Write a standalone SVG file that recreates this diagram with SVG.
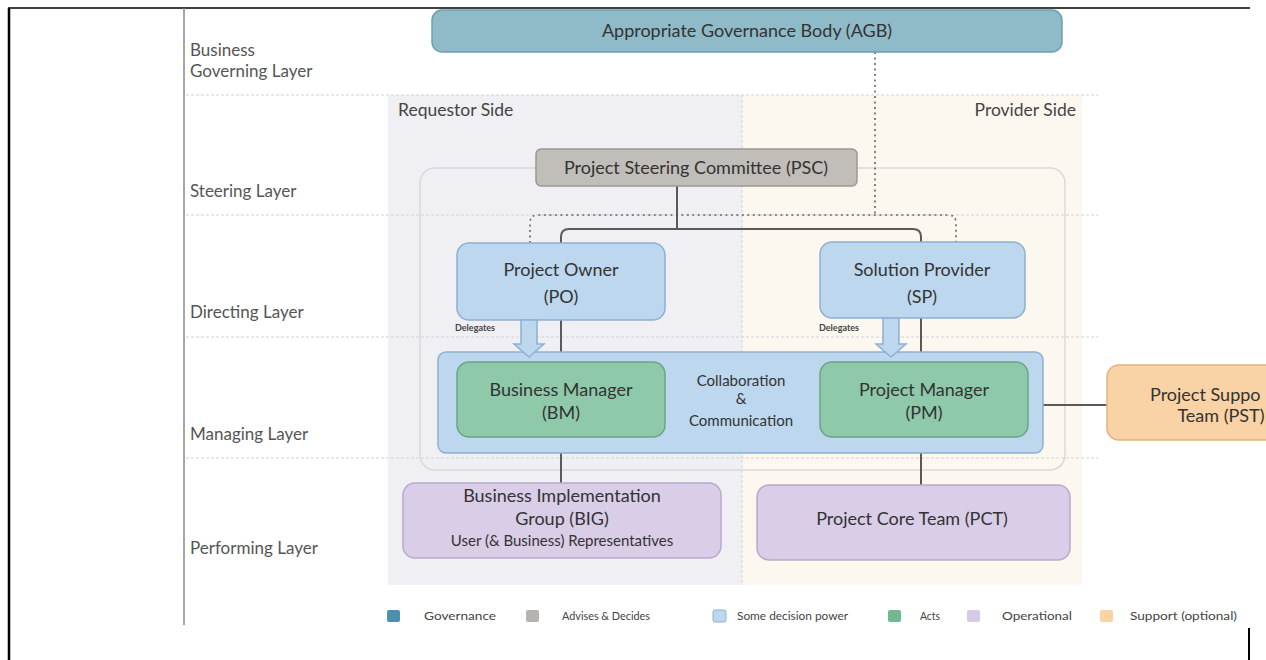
<svg xmlns="http://www.w3.org/2000/svg" width="1266" height="660" viewBox="0 0 1266 660">
<style>
text{font-family:Lato,"Open Sans","Liberation Sans",sans-serif;fill:#333}
.layer{font-size:17px;fill:#555}
.side{font-size:17.5px;fill:#444}
.lt{font-size:18px;text-anchor:middle}
.sm{font-size:15px;text-anchor:middle}
.leg{font-size:12px;fill:#444}
.del{font-size:9px;font-weight:bold;fill:#444}
.grid{stroke:#d2d2d2;stroke-width:1;stroke-dasharray:3 2;fill:none}
.conn{stroke:#5a5a5a;stroke-width:2;fill:none}
.dot{stroke:#666;stroke-width:1.6;stroke-dasharray:2 3.5;fill:none}
.blue{fill:#bdd7ee;stroke:#8eb0d2;stroke-width:1.5}
.green{fill:#8ec9a9;stroke:#6aa487;stroke-width:1.5}
.purple{fill:#d9cde7;stroke:#b9a8cf;stroke-width:1.5}
.orange{fill:#f9d2a6;stroke:#e2b27f;stroke-width:1.5}
</style>
<rect width="1266" height="660" fill="#fff"/>
<!-- backgrounds -->
<rect x="388" y="95" width="354" height="490" fill="#f0eff3"/>
<rect x="742" y="95" width="340" height="490" fill="#fcf8ef"/>
<line x1="742" y1="95" x2="742" y2="585" class="grid"/>
<g class="grid">
<line x1="186" y1="95" x2="1098" y2="95"/>
<line x1="186" y1="215" x2="1098" y2="215"/>
<line x1="186" y1="337" x2="1098" y2="337"/>
<line x1="186" y1="458" x2="1098" y2="458"/>
</g>
<rect x="420" y="168" width="645" height="302" rx="15" fill="none" stroke="#d9d9d9" stroke-width="1.5"/>
<!-- frame -->
<line x1="8" y1="8" x2="1250" y2="8" stroke="#000" stroke-width="1.5"/>
<line x1="9" y1="8" x2="9" y2="660" stroke="#000" stroke-width="2.5"/>
<line x1="184" y1="8" x2="184" y2="625" stroke="#888" stroke-width="1.5"/>
<line x1="1249" y1="628" x2="1249" y2="660" stroke="#000" stroke-width="2"/>
<!-- layer labels -->
<g id="layer-labels">
<text class="layer" x="190" y="56">Business</text>
<text class="layer" x="190" y="77">Governing Layer</text>
<text class="layer" x="190" y="197">Steering Layer</text>
<text class="layer" x="190" y="318">Directing Layer</text>
<text class="layer" x="190" y="440">Managing Layer</text>
<text class="layer" x="190" y="554">Performing Layer</text>
<text class="side" x="398" y="116">Requestor Side</text>
<text class="side" x="1076" y="116" style="text-anchor:end">Provider Side</text>
</g>
<!-- connectors -->
<g id="connectors">
<path class="dot" d="M875 52 V215"/>
<path class="dot" d="M530 243 V223 Q530 215 538 215 H948 Q956 215 956 223 V242"/>
<path class="conn" d="M677 186 V229"/>
<path class="conn" d="M561 243 V237 Q561 229 569 229 H913 Q921 229 921 237 V242"/>
<path class="conn" d="M561 320 V362"/>
<path class="conn" d="M921 318 V362"/>
<path class="conn" d="M561 437 V483"/>
<path class="conn" d="M921 437 V485"/>
<path class="conn" d="M1043 405 H1107"/>
</g>
<!-- nodes -->
<g id="agb">
<rect x="432" y="10" width="630" height="42" rx="10" fill="#8fbac8" stroke="#6f9fb0" stroke-width="1.5"/>
<text class="lt" x="747" y="37">Appropriate Governance Body (AGB)</text>
</g>
<g id="psc">
<rect x="536" y="149" width="321" height="37" rx="5" fill="#c1bdb9" stroke="#9c9893" stroke-width="1.5"/>
<text class="lt" x="696" y="174">Project Steering Committee (PSC)</text>
</g>
<g id="managing-container">
<rect x="438" y="352" width="605" height="101" rx="8" class="blue"/>
<text class="sm" x="741" y="386">Collaboration</text>
<text class="sm" x="741" y="404">&amp;</text>
<text class="sm" x="741" y="426">Communication</text>
</g>
<g id="po">
<rect x="457" y="243" width="208" height="77" rx="12" class="blue"/>
<text class="lt" x="561" y="276">Project Owner</text>
<text class="lt" x="561" y="303">(PO)</text>
</g>
<g id="sp">
<rect x="820" y="242" width="205" height="76" rx="12" class="blue"/>
<text class="lt" x="922" y="276">Solution Provider</text>
<text class="lt" x="922" y="303">(SP)</text>
</g>
<g id="delegate-po">
<path d="M521 320 V344 H514 L529 357 L544 344 H537 V320 Z" class="blue"/>
<text class="del" x="455" y="331">Delegates</text>
</g>
<g id="delegate-sp">
<path d="M883 318 V344 H876 L891 357 L906 344 H899 V318 Z" class="blue"/>
<text class="del" x="819" y="331">Delegates</text>
</g>
<g id="bm">
<rect x="457" y="362" width="208" height="75" rx="12" class="green"/>
<text class="lt" x="561" y="396">Business Manager</text>
<text class="lt" x="561" y="419">(BM)</text>
</g>
<g id="pm">
<rect x="820" y="362" width="208" height="75" rx="12" class="green"/>
<text class="lt" x="924" y="396">Project Manager</text>
<text class="lt" x="924" y="419">(PM)</text>
</g>
<g id="pst">
<rect x="1107" y="365" width="180" height="75" rx="12" class="orange"/>
<text class="lt" x="1150" y="401" style="text-anchor:start">Project Suppo</text>
<text class="lt" x="1221" y="422">Team (PST)</text>
</g>
<g id="big">
<rect x="403" y="483" width="318" height="75" rx="12" class="purple"/>
<text class="lt" x="562" y="502">Business Implementation</text>
<text class="lt" x="562" y="525">Group (BIG)</text>
<text class="sm" x="562" y="546">User (&amp; Business) Representatives</text>
</g>
<g id="pct">
<rect x="757" y="485" width="313" height="75" rx="12" class="purple"/>
<text class="lt" x="912" y="525">Project Core Team (PCT)</text>
</g>
<!-- legend -->
<g id="legend">
<rect x="387" y="610" width="13" height="12" rx="2" fill="#4f8fae"/>
<text class="leg" x="424" y="620" textLength="72" lengthAdjust="spacingAndGlyphs">Governance</text>
<rect x="526" y="610" width="13" height="12" rx="2" fill="#b7b2ae"/>
<text class="leg" x="562" y="620" textLength="88" lengthAdjust="spacingAndGlyphs">Advises &amp; Decides</text>
<rect x="713" y="610" width="13" height="12" rx="2" fill="#bdd7ee" stroke="#8eb0d2"/>
<text class="leg" x="737" y="620" textLength="111" lengthAdjust="spacingAndGlyphs">Some decision power</text>
<rect x="888" y="610" width="13" height="12" rx="2" fill="#72b891"/>
<text class="leg" x="920" y="620" textLength="20" lengthAdjust="spacingAndGlyphs">Acts</text>
<rect x="967" y="610" width="13" height="12" rx="2" fill="#d6c9e8"/>
<text class="leg" x="1002" y="620" textLength="70" lengthAdjust="spacingAndGlyphs">Operational</text>
<rect x="1100" y="610" width="13" height="12" rx="2" fill="#f9d3a3"/>
<text class="leg" x="1130" y="620" textLength="107" lengthAdjust="spacingAndGlyphs">Support (optional)</text>
</g>
</svg>
